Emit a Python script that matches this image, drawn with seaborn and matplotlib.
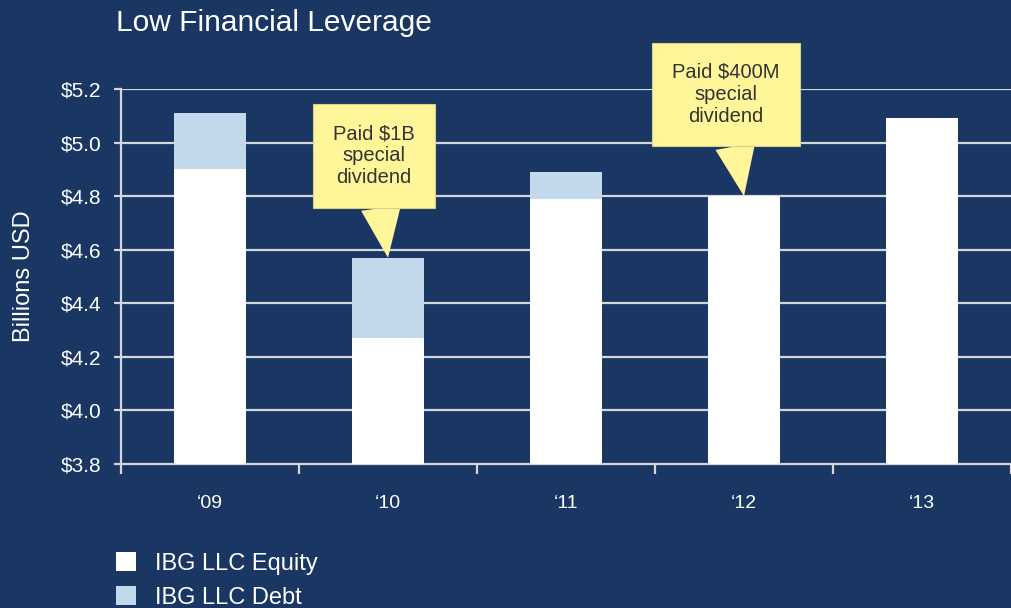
import matplotlib
matplotlib.use("Agg")
import matplotlib.pyplot as plt
from matplotlib.patches import Patch
import pandas as pd
import seaborn as sns

years = ["\u201809", "\u201810", "\u201811", "\u201812", "\u201813"]
equity = [4.90, 4.27, 4.79, 4.80, 5.09]
debt = [0.21, 0.30, 0.10, 0.00, 0.00]
y_ticks = [3.8, 4.0, 4.2, 4.4, 4.6, 4.8, 5.0, 5.2]

bg = "#1a3663"
debt_col = "#c2d9ec"
grid_col = "#d4d6da"
note_col = "#fff69a"

df = pd.DataFrame({"year": years, "equity": equity, "debt": debt})
df["total"] = df["equity"] + df["debt"]

sns.set_theme(style="white")
plt.rcParams["font.family"] = ["Liberation Sans", "DejaVu Sans"]

fig = plt.figure(figsize=(10.11, 6.08), dpi=100, facecolor=bg)
ax = fig.add_axes([121 / 1011, 1 - 464 / 608, 890 / 1011, 375 / 608])
ax.set_facecolor(bg)

sns.barplot(data=df, x="year", y="total", color=debt_col, width=0.4,
            saturation=1, ax=ax, zorder=3, linewidth=0)
sns.barplot(data=df, x="year", y="equity", color="white", width=0.4,
            saturation=1, ax=ax, zorder=4, linewidth=0)

ax.set_ylim(3.8, 5.2)
ax.set_xlim(-0.5, 4.47)
ax.set_yticks(y_ticks)
ax.set_yticklabels([f"${v:.1f}" for v in y_ticks])
ax.set_xlabel("")
ax.set_ylabel("Billions USD", color="white", fontsize=17)
ax.yaxis.set_label_coords(-0.097, 0.5)

for v in y_ticks[1:]:
    ax.axhline(v, color=grid_col, lw=1.6, zorder=1)

for side in ["top", "right"]:
    ax.spines[side].set_visible(False)
for side in ["left", "bottom"]:
    ax.spines[side].set_color(grid_col)
    ax.spines[side].set_linewidth(1.6)

ax.tick_params(which="both", bottom=True, left=True)
ax.set_xticks([i + 0.5 for i in range(-1, len(years))], minor=True)
ax.tick_params(axis="x", which="major", length=0, pad=22, labelsize=14,
               colors="white")
ax.tick_params(axis="x", which="minor", length=7, width=1.6, color=grid_col,
               direction="out")
ax.tick_params(axis="y", length=5, width=1.6, color=grid_col, pad=9,
               labelsize=15, labelcolor="white")

fig.text(116 / 1011, 1 - 23 / 608, "Low Financial Leverage", color="white",
         fontsize=21.5, va="center", ha="left")

notes = [(1, "Paid $1B\nspecial\ndividend", (0.92, 4.95)),
         (3, "Paid $400M\nspecial\ndividend", (2.90, 5.18))]
for i, txt, pos in notes:
    ax.annotate(txt, xy=(i, df["total"][i]), xytext=pos, ha="center",
                va="center", fontsize=14.5, color="#333333", linespacing=1.2,
                zorder=6, annotation_clip=False,
                bbox=dict(boxstyle="square,pad=1.0", fc=note_col,
                          ec="#d8d08a", lw=0.8),
                arrowprops=dict(arrowstyle="wedge,tail_width=2.0,shrink_factor=0.5",
                                fc=note_col, ec="none", shrinkA=0, shrinkB=0))

handles = [Patch(fc="white", ec="none", label="IBG LLC Equity"),
           Patch(fc=debt_col, ec="none", label="IBG LLC Debt")]
leg = fig.legend(handles=handles, loc="upper left",
                 bbox_to_anchor=(116 / 1011, 1 - 552 / 608), frameon=False,
                 fontsize=17, labelcolor="white", handlelength=0.85,
                 handleheight=0.85, handletextpad=0.8, labelspacing=0.5,
                 borderpad=0, borderaxespad=0)

fig.savefig("out.png", dpi=100, facecolor=bg)
